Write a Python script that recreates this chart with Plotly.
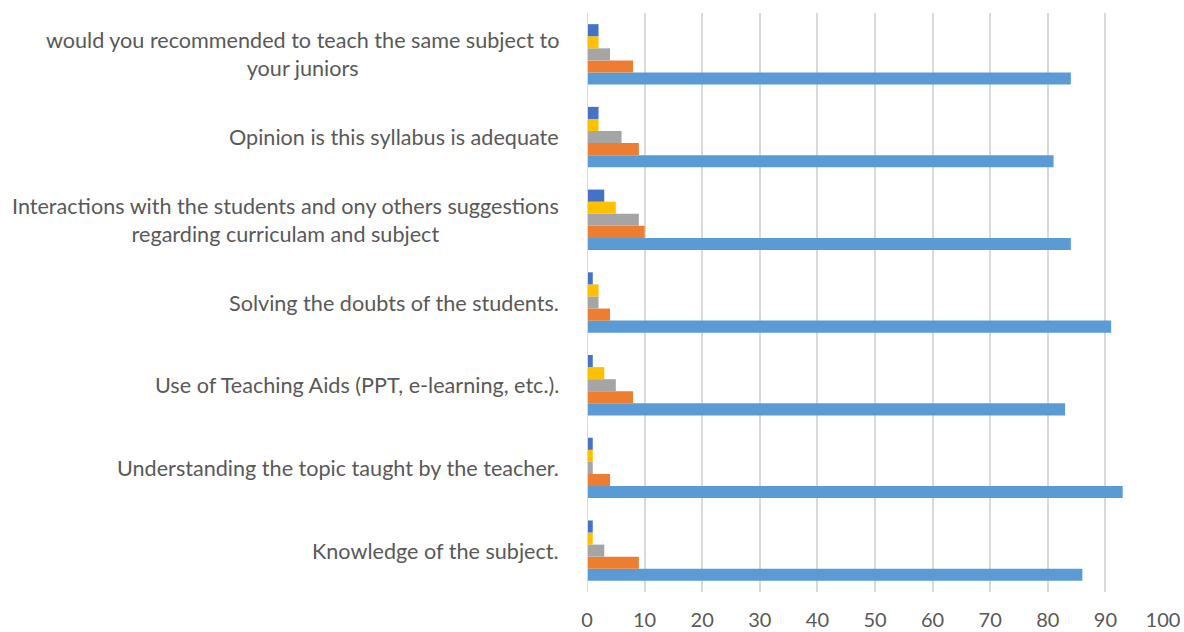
import plotly.graph_objects as go

categories = [
    "Knowledge of the subject.",
    "Understanding the topic taught by the teacher.",
    "Use of Teaching Aids (PPT, e-learning, etc.).",
    "Solving the doubts of the students.",
    "Interactions with the students and ony others suggestions<br>regarding curriculam and subject",
    "Opinion is this syllabus is adequate",
    "would you recommended to teach the same subject to<br>your juniors",
]

series1 = [86, 93, 83, 91, 84, 81, 84]
series2 = [9, 4, 8, 4, 10, 9, 8]
series3 = [3, 1, 5, 2, 9, 6, 4]
series4 = [1, 1, 3, 2, 5, 2, 2]
series5 = [1, 1, 1, 1, 3, 2, 2]

series_list = [series1, series2, series3, series4, series5]
colors = ["#5B9BD5", "#ED7D31", "#A5A5A5", "#FFC000", "#4472C4"]
names = ["Series 1", "Series 2", "Series 3", "Series 4", "Series 5"]
x_ticks = list(range(0, 101, 10))

FONT = "Lato"
GREY = "#595959"

fig = go.Figure()
for vals, col, nm in zip(series_list, colors, names):
    fig.add_trace(go.Bar(
        y=categories, x=vals, orientation="h", name=nm,
        marker=dict(color=col, line=dict(width=0)),
    ))

annotations = []
for c in categories:
    annotations.append(dict(
        x=-0.045, xref="paper", y=c, yref="y", text=c,
        showarrow=False, xanchor="right", yanchor="middle", align="center",
        font=dict(family=FONT, size=21.6, color=GREY),
    ))

fig.update_layout(
    width=1184, height=632,
    margin=dict(l=587, r=21, t=13, b=40, autoexpand=False),
    paper_bgcolor="white", plot_bgcolor="white",
    barmode="group", bargap=0.27, bargroupgap=0,
    showlegend=False,
    annotations=annotations,
    xaxis=dict(
        range=[0, 100], tickvals=x_ticks, ticktext=[str(v) for v in x_ticks],
        showgrid=True, gridcolor="#D9D9D9", gridwidth=1.5,
        zeroline=False, showline=False, automargin=False,
        ticks="outside", ticklen=10, tickcolor="rgba(0,0,0,0)",
        tickfont=dict(family=FONT, size=20, color=GREY),
        fixedrange=True,
    ),
    yaxis=dict(
        categoryorder="array", categoryarray=categories,
        showticklabels=False, showgrid=False, zeroline=False,
        showline=False, automargin=False,
        fixedrange=True,
    ),
    shapes=[dict(type="line", xref="x", yref="paper", x0=0, x1=0, y0=0, y1=1,
                 line=dict(color="#D9D9D9", width=2))],
)

fig.write_html("out.html", config={"displayModeBar": False},
               post_script="document.body.style.margin='0px';")
